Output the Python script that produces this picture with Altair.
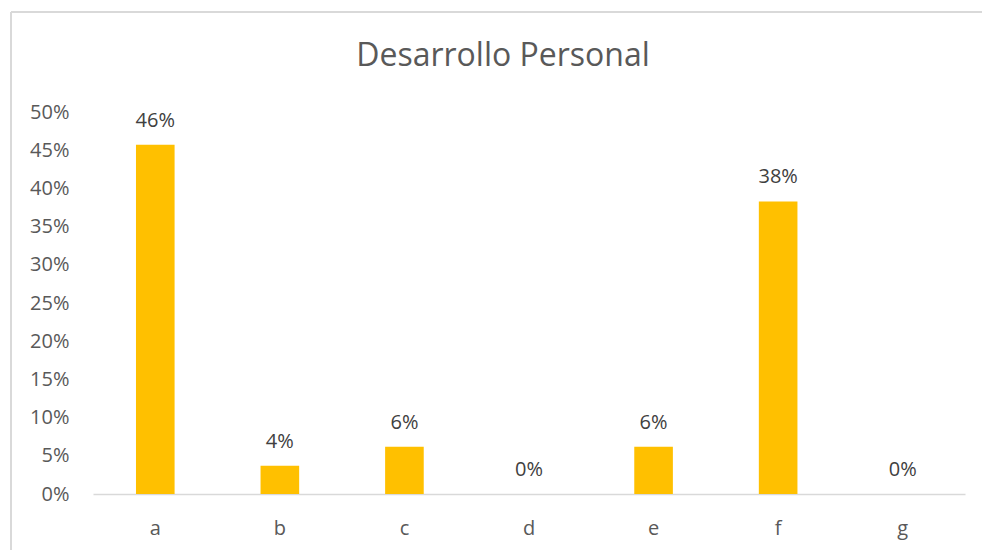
import altair as alt
import pandas as pd

categories = ["a", "b", "c", "d", "e", "f", "g"]
values = [0.457, 0.037, 0.062, 0.0, 0.062, 0.383, 0.0]
labels = ["46%", "4%", "6%", "0%", "6%", "38%", "0%"]
title_text = "Desarrollo Personal"

df = pd.DataFrame({"cat": categories, "val": values, "lab": labels})

FONT = "Open Sans"
GREY = "#595959"
FS = 20

base = alt.Chart(df).encode(
    x=alt.X("cat:N", sort=categories, title=None,
            scale=alt.Scale(paddingInner=0.69, paddingOuter=0.345),
            axis=alt.Axis(labelAngle=0, ticks=False, domainColor="#d9d9d9", domainWidth=1.3,
                          labelColor=GREY, labelFontSize=FS, labelFont=FONT, labelPadding=24)),
    y=alt.Y("val:Q", title=None,
            scale=alt.Scale(domain=[0, 0.5]),
            axis=alt.Axis(format=".0%", values=[0, 0.05, 0.1, 0.15, 0.2, 0.25, 0.3, 0.35, 0.4, 0.45, 0.5],
                          domain=False, ticks=False, grid=False, labelColor=GREY,
                          labelFontSize=FS, labelFont=FONT, labelPadding=24)),
)

bars = base.mark_bar(color="#FFC000")
text = base.mark_text(dy=-14, baseline="bottom", fontSize=FS, font=FONT, color="#404040").encode(text="lab:N")

frame_left = alt.Chart(df).mark_rule(color="#d9d9d9", strokeWidth=1.5).encode(
    x=alt.value(-82), y=alt.value(-100), y2=alt.value(440))
frame_top = alt.Chart(df).mark_rule(color="#d9d9d9", strokeWidth=1.5).encode(
    x=alt.value(-82), x2=alt.value(895), y=alt.value(-100))

title = alt.Chart(pd.DataFrame({"t": [title_text]})).mark_text(
    fontSize=32, font=FONT, color=GREY, align="center", baseline="middle"
).encode(text="t:N", x=alt.value(410), y=alt.value(-56))

chart = alt.layer(frame_left, frame_top, bars, text, title).properties(
    width=872, height=382,
    autosize=alt.AutoSizeParams(type="none"),
    padding={"left": 93, "top": 112, "right": 17, "bottom": 56},
).configure(background="white").configure_view(stroke=None)

chart.save("out.html", embed_options={"renderer": "svg", "actions": False})
